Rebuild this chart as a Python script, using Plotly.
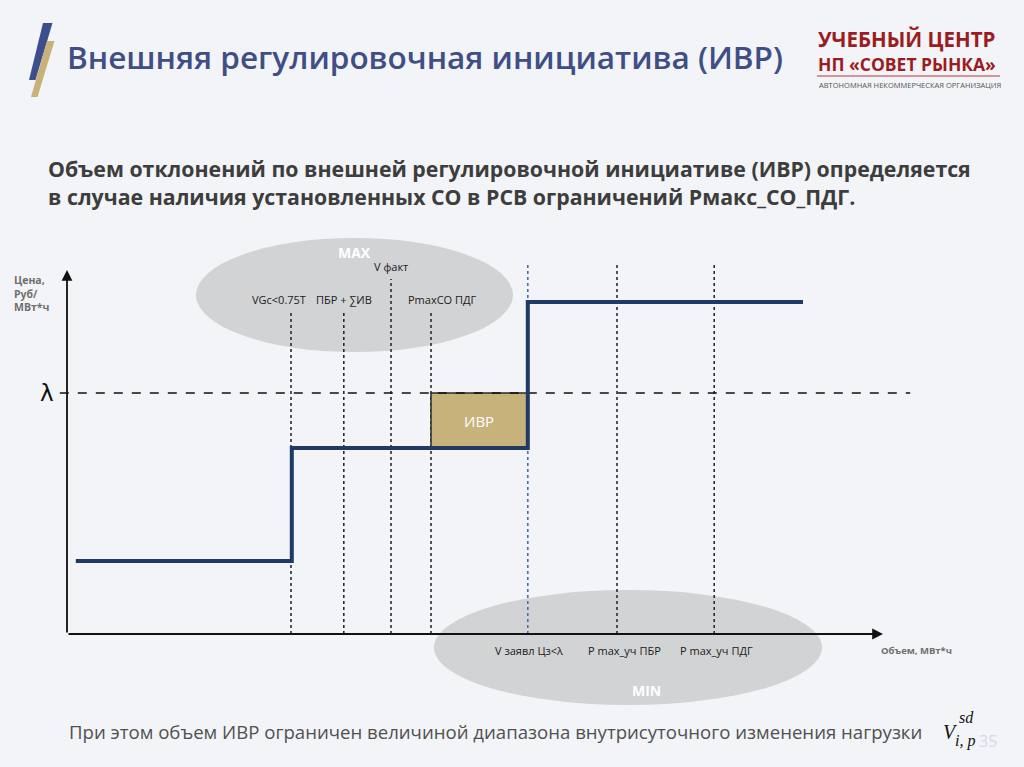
import plotly.graph_objects as go

# ---------------- data (chart units: volume on x, price on y) ----------------
step_x = [1.1, 28.1, 57.6, 92.0]          # supply curve break points (volume)
step_y = [18.25, 46.5, 83.0, 83.0]        # supply curve price levels
lambda_price = 60.25                      # equilibrium price λ
lambda_x = [-0.9, 105.4]

ivr_x = [45.5, 57.6]                      # IVR block volume range
ivr_y = [46.5, 60.25]                     # IVR block price range

mark_x = [28.0, 34.6, 40.5, 45.5, 57.6, 68.75, 80.9]
mark_top = [80.5, 80.5, 88.75, 80.5, 93.0, 93.0, 93.0]
mark_labels = ["VGc<0.75T", "ПБР + ∑ИВ", "V факт", "PmaxCO ПДГ",
               "V заявл Цз<λ", "P max_уч ПБР", "P max_уч ПДГ"]
mark_group = ["max", "max", "max", "max", "min", "min", "min"]

x_axis_end = 102.0
y_axis_end = 91.0

# ---------------- page geometry ----------------
W, H = 1024, 767
KX, KY = 8.0, 4.0          # px per unit
OX, OY = 67.0, 634.0       # origin in px
x_range = [-OX / KX, (W - OX) / KX]
y_range = [-(H - OY) / KY, OY / KY]


def px(x):
    return x / W


def py(y):
    return 1 - y / H


BG = "#f2f4f7"
NAVY = "#1f3a66"
fig = go.Figure()

# marker (dotted) lines
for xv, top, g in zip(mark_x, mark_top, mark_group):
    col = "#4a6fa5" if abs(xv - 57.6) < 1e-6 else "#2b2b35"
    fig.add_trace(go.Scatter(x=[xv, xv], y=[0, top], mode="lines",
                             line=dict(color=col, width=1.6, dash="dot"),
                             hoverinfo="skip", showlegend=False))

# IVR block
fig.add_trace(go.Scatter(
    x=[ivr_x[0], ivr_x[1], ivr_x[1], ivr_x[0], ivr_x[0]],
    y=[ivr_y[0], ivr_y[0], ivr_y[1], ivr_y[1], ivr_y[0]],
    mode="lines", fill="toself", fillcolor="#c7b27c",
    line=dict(color="#2a2a2a", width=1.5), hoverinfo="skip", showlegend=False))

# lambda dashed line
fig.add_trace(go.Scatter(x=lambda_x, y=[lambda_price, lambda_price], mode="lines",
                         line=dict(color="#111111", width=1.5, dash="dash"),
                         hoverinfo="skip", showlegend=False))

# supply step curve
fig.add_trace(go.Scatter(x=step_x, y=step_y, mode="lines", line_shape="hv",
                         line=dict(color=NAVY, width=4),
                         hoverinfo="skip", showlegend=False))

# ---------------- shapes ----------------
shapes = []
shapes.append(dict(type="circle", xref="paper", yref="paper",
                   x0=px(196), x1=px(513), y0=py(352), y1=py(238),
                   fillcolor="#d2d3d5", line=dict(width=0), layer="below"))
shapes.append(dict(type="circle", xref="paper", yref="paper",
                   x0=px(434), x1=px(822), y0=py(705), y1=py(590),
                   fillcolor="#d2d3d5", line=dict(width=0), layer="below"))


def poly(pts):
    return "M " + " L ".join(f"{px(a):.5f},{py(b):.5f}" for a, b in pts) + " Z"


shapes.append(dict(type="path", xref="paper", yref="paper",
                   path=poly([(43, 23), (52.5, 23), (35.5, 80), (29, 80)]),
                   fillcolor="#3c4f8c", line=dict(width=0)))
shapes.append(dict(type="path", xref="paper", yref="paper",
                   path=poly([(47, 41), (54.5, 41), (37.5, 97), (31, 97)]),
                   fillcolor="#c9b27a", line=dict(width=0)))
shapes.append(dict(type="line", xref="paper", yref="paper",
                   x0=px(817), x1=px(1000), y0=py(76), y1=py(76),
                   line=dict(color="#b03a3a", width=1)))

# ---------------- annotations ----------------
ann = []
ann.append(dict(x=x_axis_end, y=0, ax=0, ay=0, xref="x", yref="y",
                axref="x", ayref="y", showarrow=True, arrowhead=2,
                arrowsize=1.2, arrowwidth=1.8, arrowcolor="#111111", text=""))
ann.append(dict(x=0, y=y_axis_end, ax=0, ay=0, xref="x", yref="y",
                axref="x", ayref="y", showarrow=True, arrowhead=2,
                arrowsize=1.2, arrowwidth=1.8, arrowcolor="#111111", text=""))

TXT = dict(family="Open Sans", color="#1a1a1a", size=11)
shift = {"VGc<0.75T": -12, "ПБР + ∑ИВ": 0, "V факт": 0, "PmaxCO ПДГ": 11,
         "V заявл Цз<λ": 1, "P max_уч ПБР": 7, "P max_уч ПДГ": 2}
for xv, top, lab, g in zip(mark_x, mark_top, mark_labels, mark_group):
    if g == "max":
        ann.append(dict(x=xv, y=top, xref="x", yref="y", text=lab,
                        showarrow=False, xanchor="center", yanchor="bottom",
                        xshift=shift[lab], yshift=3, font=TXT))
    else:
        ann.append(dict(x=xv, y=0, xref="x", yref="y", text=lab,
                        showarrow=False, xanchor="center", yanchor="middle",
                        xshift=shift[lab], yshift=-16, font=TXT))


def note(x, y, text, font, xanchor="left", yanchor="middle", align="left"):
    ann.append(dict(x=px(x), y=py(y), xref="paper", yref="paper", text=text,
                    showarrow=False, xanchor=xanchor, yanchor=yanchor,
                    align=align, font=font))


note(354, 252, "<b>MAX</b>", dict(family="Open Sans", size=14, color="white"), "center")
note(646, 690, "<b>MIN</b>", dict(family="Open Sans", size=14, color="white"), "center")
ann.append(dict(x=(ivr_x[0] + ivr_x[1]) / 2, y=(ivr_y[0] + ivr_y[1]) / 2,
                xref="x", yref="y", text="ИВР", showarrow=False,
                xanchor="center", yanchor="middle",
                font=dict(family="Open Sans", size=15, color="white")))
note(47, 393, "λ", dict(family="DejaVu Sans", size=23, color="#111"), "center")
note(12, 271, "<b>Цена,<br>Руб/<br>МВт*ч</b>",
     dict(family="Open Sans", size=10.5, color="#6f6f6f"), "left", "top")
note(879, 650, "<b>Объем, МВт*ч</b>", dict(family="Open Sans", size=9.5, color="#6f6f6f"))

# title & texts
note(65, 56, "Внешняя регулировочная инициатива (ИВР)",
     dict(family="Open Sans", size=31.5, weight=600, color="#3f4f86"))
note(816, 39, "<b>УЧЕБНЫЙ ЦЕНТР</b>", dict(family="Open Sans", size=20.5, color="#9b1c22"))
note(816, 64, "<b>НП «СОВЕТ РЫНКА»</b>", dict(family="Open Sans", size=17.5, color="#9b1c22"))
note(817, 85, "АВТОНОМНАЯ НЕКОММЕРЧЕСКАЯ ОРГАНИЗАЦИЯ",
     dict(family="Open Sans", size=7.5, color="#555555"))
note(46, 168, "<b>Объем отклонений по внешней регулировочной инициативе (ИВР) определяется</b>",
     dict(family="Open Sans", size=21.3, color="#3d3d3d"))
note(46, 196, "<b>в случае наличия установленных СО в РСВ ограничений Pмакс_СО_ПДГ.</b>",
     dict(family="Open Sans", size=21.3, color="#3d3d3d"))
note(67, 731, "При этом объем ИВР ограничен величиной диапазона внутрисуточного изменения нагрузки",
     dict(family="Open Sans", size=18.6, color="#505050"))
note(977, 741, "35", dict(family="Open Sans", size=16, color="#d8dade"))
note(941, 732, "<i>V</i>", dict(family="Liberation Serif", size=20, color="#111"))
note(957, 717, "<i>sd</i>", dict(family="Liberation Serif", size=16, color="#111"))
note(953, 741, "<i>i, p</i>", dict(family="Liberation Serif", size=16, color="#111"))

fig.update_layout(
    width=W, height=H, margin=dict(l=0, r=0, t=0, b=0),
    paper_bgcolor=BG, plot_bgcolor=BG,
    xaxis=dict(range=x_range, visible=False, fixedrange=True),
    yaxis=dict(range=y_range, visible=False, fixedrange=True),
    shapes=shapes, annotations=ann, showlegend=False,
)

fig.write_html("out.html", config={"displayModeBar": False},
               post_script="document.body.style.margin='0';document.body.style.overflow='hidden';")
